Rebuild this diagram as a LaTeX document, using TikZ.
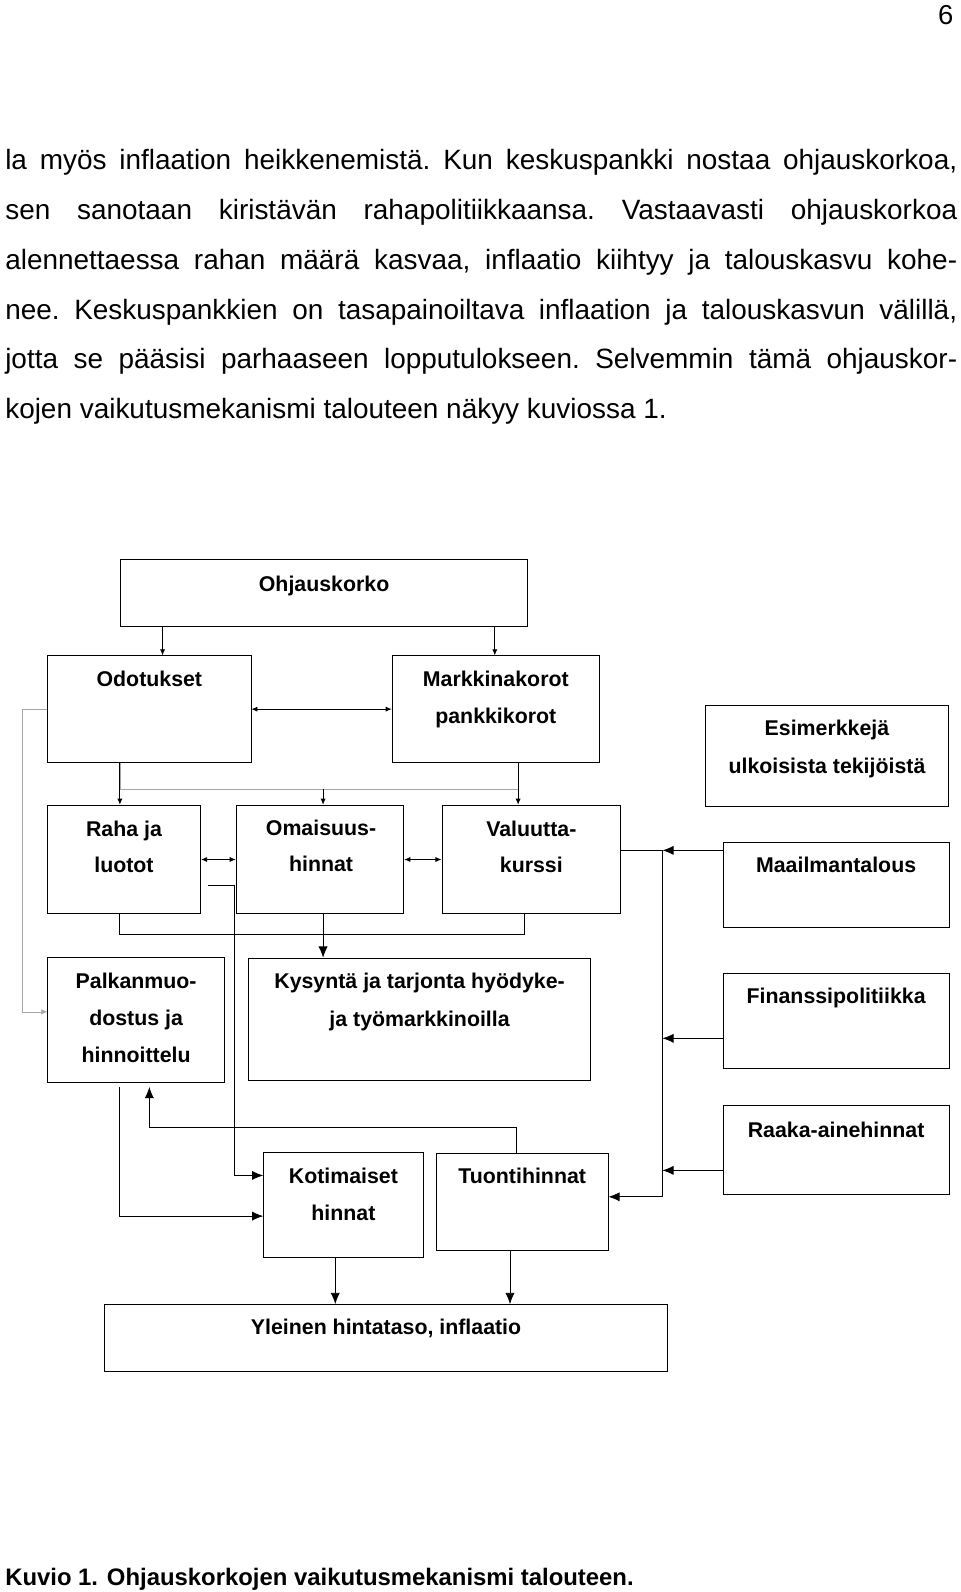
\documentclass[tikz,border=0pt]{standalone}
\usepackage{fontspec}
\setmainfont{Liberation Sans}
\usetikzlibrary{arrows.meta}

\begin{document}
\begin{tikzpicture}[x=1pt,y=-1pt]
% Styles
 \tikzstyle{laatikko}=[rectangle,draw,thick,inner sep=0pt]
 \tikzstyle{teksti}=[font=\fontsize{21}{36}\selectfont\bfseries,anchor=base,inner sep=0pt]
 \tikzstyle{nuoli}=[-{Latex[length=6pt,width=5pt]},thick]
 \tikzstyle{iso}=[-{Latex[length=11pt,width=9pt]},thick]
 \tikzstyle{kaksi}=[{Latex[length=6pt,width=5pt]}-{Latex[length=6pt,width=5pt]},thick]
 \tikzstyle{harmaa}=[-{Latex[length=6pt,width=5pt]},gray!70]
 \useasboundingbox (0,0) rectangle (945,1567);
% Sivu ja teksti
 \node[anchor=base east,font=\fontsize{27}{30}\selectfont] (sivu) at (942,24) {6};
 \node[anchor=north west,text width=937pt,inner sep=0pt,align=justify,
       font=\fontsize{27.5}{49}\selectfont\frenchspacing] (kpl) at (5,147) {la myös inflaation heikkenemistä. Kun keskuspankki nostaa ohjauskorkoa,\linebreak
 sen sanotaan kiristävän rahapolitiikkaansa. Vastaavasti ohjauskorkoa\linebreak
 alennettaessa rahan määrä kasvaa, inflaatio kiihtyy ja talouskasvu kohe-\linebreak
 nee. Keskuspankkien on tasapainoiltava inflaation ja talouskasvun välillä,\linebreak
 jotta se pääsisi parhaaseen lopputulokseen. Selvemmin tämä ohjauskor-\linebreak
 kojen vaikutusmekanismi talouteen näkyy kuviossa 1.};
% Laatikot
 \node[laatikko,minimum width=400pt,minimum height=66pt] (ohj) at (319,584) {};
 \node[laatikko,minimum width=200pt,minimum height=105pt] (odot) at (147,698) {};
 \node[laatikko,minimum width=204pt,minimum height=105pt] (markk) at (488,698) {};
 \node[laatikko,minimum width=239pt,minimum height=100pt] (esim) at (814,744) {};
 \node[laatikko,minimum width=151pt,minimum height=107pt] (raha) at (122,846) {};
 \node[laatikko,minimum width=165pt,minimum height=107pt] (omai) at (315,846) {};
 \node[laatikko,minimum width=176pt,minimum height=107pt] (valu) at (523,846) {};
 \node[laatikko,minimum width=222pt,minimum height=84pt] (maail) at (823,871) {};
 \node[laatikko,minimum width=174pt,minimum height=123pt] (palk) at (134,1004) {};
 \node[laatikko,minimum width=337pt,minimum height=120pt] (kys) at (413,1003) {};
 \node[laatikko,minimum width=222pt,minimum height=94pt] (fin) at (823,1005) {};
 \node[laatikko,minimum width=222pt,minimum height=87pt] (raaka) at (823,1132) {};
 \node[laatikko,minimum width=157pt,minimum height=103pt] (koti) at (338,1186) {};
 \node[laatikko,minimum width=169pt,minimum height=96pt] (tuonti) at (514,1183) {};
 \node[laatikko,minimum width=554pt,minimum height=66pt] (yleinen) at (380,1317) {};
% Tekstit
 \node[teksti] (tohj) at (319,582) {Ohjauskorko};
 \node[teksti] (todot) at (147,676) {Odotukset};
 \node[teksti] (tmarkk1) at (488,676) {Markkinakorot};
 \node[teksti] (tmarkk2) at (488,712) {pankkikorot};
 \node[teksti] (tesim1) at (814,724) {Esimerkkejä};
 \node[teksti] (tesim2) at (814,761) {ulkoisista tekijöistä};
 \node[teksti] (traha1) at (122,823) {Raha ja};
 \node[teksti] (traha2) at (122,859) {luotot};
 \node[teksti] (tomai1) at (316,822) {Omaisuus-};
 \node[teksti] (tomai2) at (316,858) {hinnat};
 \node[teksti] (tvalu1) at (523,823) {Valuutta-};
 \node[teksti] (tvalu2) at (523,859) {kurssi};
 \node[teksti] (tmaail) at (823,859) {Maailmantalous};
 \node[teksti] (tpalk1) at (134,973) {Palkanmuo-};
 \node[teksti] (tpalk2) at (134,1009) {dostus ja};
 \node[teksti] (tpalk3) at (134,1046) {hinnoittelu};
 \node[teksti] (tkys1) at (413,973) {Kysyntä ja tarjonta hyödyke-};
 \node[teksti] (tkys2) at (413,1010) {ja työmarkkinoilla};
 \node[teksti] (tfin) at (823,988) {Finanssipolitiikka};
 \node[teksti] (traaka) at (823,1120) {Raaka-ainehinnat};
 \node[teksti] (tkoti1) at (338,1165) {Kotimaiset};
 \node[teksti] (tkoti2) at (338,1201) {hinnat};
 \node[teksti] (ttuonti) at (514,1165) {Tuontihinnat};
 \node[teksti] (tyleinen) at (380,1314) {Yleinen hintataso, inflaatio};
 \node[anchor=base west,font=\fontsize{23.5}{26}\selectfont\bfseries,inner sep=0pt] (kuvio) at (5,1561) {Kuvio 1. Ohjauskorkojen vaikutusmekanismi talouteen.};
% Apupisteet
 \coordinate (vasen) at (22,698);
 \coordinate (vali) at (318,777);
 \coordinate (alavali) at (318,920);
 \coordinate (kisko) at (652,837);
 \coordinate (kiskoala) at (652,1178);
 \coordinate (rahaoik) at (205,871);
% Nuolet
 \draw[nuoli] (ohj.south -| 160,0) -- (odot.north -| 160,0);
 \draw[nuoli] (ohj.south -| 487,0) -- (markk.north -| 487,0);
 \draw[kaksi] (odot.east) -- (markk.west);
 \draw[harmaa] (odot.west) -- (vasen) |- (palk.west |- 0,996);
 \draw[gray!70] (odot.south -| 118,0) |- (vali) -| (markk.south -| 510,0);
 \draw[nuoli] (odot.south -| 118,0) -- (raha.north -| 118,0);
 \draw[nuoli] (vali) -- (omai.north -| 318,0);
 \draw[nuoli] (markk.south -| 510,0) -- (valu.north -| 510,0);
 \draw[kaksi] (raha.east) -- (omai.west);
 \draw[kaksi] (omai.east) -- (valu.west);
 \draw[thick] (raha.south -| 118,0) |- (alavali) -| (valu.south -| 516,0);
 \draw[iso] (omai.south -| 318,0) -- (kys.north -| 318,0);
 \draw[iso] (rahaoik) -| (231,1157) -- (koti.west |- 0,1157);
 \draw[iso] (palk.south -| 118,0) ++(0,4) |- (koti.west |- 0,1197);
 \draw[iso] (tuonti.north -| 508,0) |- (147,1110) -- ([yshift=-4pt]palk.south -| 147,0);
 \draw[iso] (koti.south -| 330,0) -- (yleinen.north -| 330,0);
 \draw[iso] (tuonti.south -| 502,0) -- (yleinen.north -| 502,0);
 \draw[thick] (valu.east |- kisko) -- (kisko) -- (kiskoala);
 \draw[iso] (maail.west |- kisko) -- (kisko);
 \draw[iso] (fin.west |- 0,1022) -- (kisko |- 0,1022);
 \draw[iso] (raaka.west |- 0,1152) -- (kisko |- 0,1152);
 \draw[iso] (kiskoala) -- (tuonti.east |- kiskoala);
\end{tikzpicture}
\end{document}
